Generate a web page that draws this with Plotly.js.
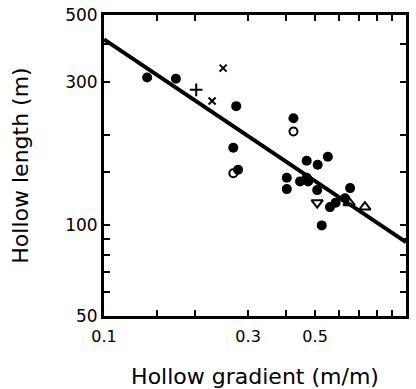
<!DOCTYPE html>
<html>
<head>
<meta charset="utf-8">
<script src="https://cdn.plot.ly/plotly-3.0.1.min.js"></script>
<style>html,body{margin:0;padding:0;background:#fff;}#chart{width:416px;height:389px;}</style>
</head>
<body>
<div id="chart"></div>
<script>
// Filled circles
var filledX = [0.139, 0.173, 0.274, 0.268, 0.278, 0.424, 0.403, 0.403, 0.446, 0.469, 0.474, 0.469, 0.51, 0.551, 0.508, 0.56, 0.585, 0.628, 0.653, 0.526];
var filledY = [310, 307, 249, 181, 153, 227, 144, 132, 140, 144, 140, 164, 159, 169, 131, 115, 119, 123, 133, 100];
// Open circles
var openX = [0.268, 0.424];
var openY = [149, 205];
// Plus
var plusX = [0.202];
var plusY = [282];
// Crosses
var crossX = [0.248, 0.228];
var crossY = [333, 259];
// Open down triangle
var triDownX = [0.508];
var triDownY = [119];
// Open up triangles
var triUpX = [0.648, 0.731];
var triUpY = [119, 115];
// Fitted line
var fitX = [0.1, 1.0];
var fitY = [415, 88];

// Ticks
var xTickVals = [0.1, 0.15, 0.2, 0.3, 0.4, 0.5, 0.6, 0.7, 0.8, 0.9, 1.0];
var xTickText = ['0.1', '', '', '0.3', '', '0.5', '', '', '', '', '1.0'];
var yTickVals = [50, 60, 70, 80, 90, 100, 150, 200, 300, 400, 500];
var yTickText = ['50', '', '', '', '', '100', '', '', '300', '', '500'];

var xTitle = 'Hollow gradient (m/m)';
var yTitle = 'Hollow length (m)';

var traces = [
  {x: fitX, y: fitY, mode: 'lines', line: {color: '#000', width: 4}, hoverinfo: 'skip'},
  {x: filledX, y: filledY, mode: 'markers', marker: {symbol: 'circle', size: 10, color: '#000'}},
  {x: openX, y: openY, mode: 'markers', marker: {symbol: 'circle-open', size: 8, color: '#000', line: {width: 2, color: '#000'}}},
  {x: plusX, y: plusY, mode: 'markers', marker: {symbol: 'cross-thin-open', size: 9, color: '#000', line: {width: 2, color: '#000'}}},
  {x: crossX, y: crossY, mode: 'markers', marker: {symbol: 'x-thin-open', size: 7, color: '#000', line: {width: 2, color: '#000'}}},
  {x: triDownX, y: triDownY, mode: 'markers', marker: {symbol: 'triangle-down-open', size: 10, color: '#000', line: {width: 2, color: '#000'}}},
  {x: triUpX, y: triUpY, mode: 'markers', marker: {symbol: 'triangle-up-open', size: 10, color: '#000', line: {width: 2, color: '#000'}}}
];

var layout = {
  width: 416, height: 389,
  margin: {l: 104, r: 10, t: 15, b: 73},
  paper_bgcolor: '#fff', plot_bgcolor: '#fff',
  showlegend: false,
  font: {family: 'DejaVu Sans', color: '#000', size: 17},
  xaxis: {
    type: 'log', range: [-1, 0],
    tickvals: xTickVals, ticktext: xTickText,
    ticks: 'inside', ticklen: 6, tickwidth: 2, tickcolor: '#000',
    showline: true, linewidth: 3, linecolor: '#000', mirror: 'ticks',
    showgrid: false, zeroline: false,
    tickfont: {size: 16},
    ticklabelstandoff: 4,
    title: {text: xTitle, font: {size: 22}, standoff: 25}
  },
  yaxis: {
    type: 'log', range: [Math.log10(50), Math.log10(500)],
    tickvals: yTickVals, ticktext: yTickText,
    ticks: 'inside', ticklen: 6, tickwidth: 2, tickcolor: '#000',
    showline: true, linewidth: 3, linecolor: '#000', mirror: 'ticks',
    showgrid: false, zeroline: false,
    tickfont: {size: 17},
    ticklabelstandoff: 0,
    title: {text: yTitle, font: {size: 22}, standoff: 31}
  }
};

Plotly.newPlot('chart', traces, layout, {displayModeBar: false, staticPlot: true});
</script>
</body>
</html>
